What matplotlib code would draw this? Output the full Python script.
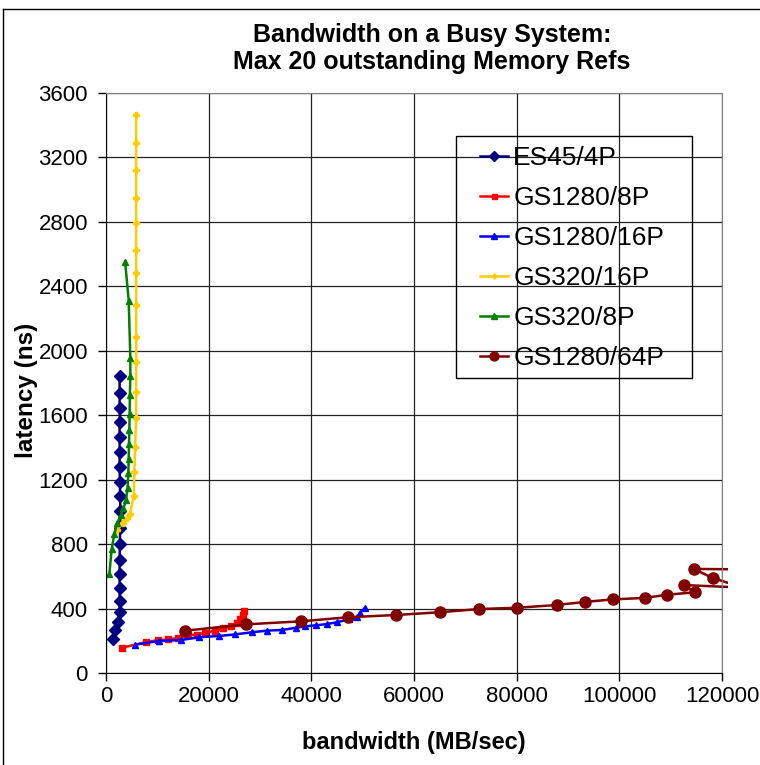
import numpy as np
import matplotlib
matplotlib.use("Agg")
import matplotlib.pyplot as plt
from matplotlib.lines import Line2D
from matplotlib.patches import Rectangle
from matplotlib.transforms import Bbox, TransformedBbox

plt.rcParams['font.family'] = ['Liberation Sans', 'DejaVu Sans']

# data (bandwidth MB/sec, latency ns)
es45_4p_bw = [1310, 1830, 2280, 2650, 2650, 2650, 2650, 2650, 2700, 2750,
              2800, 2750, 2700, 2650, 2650, 2650, 2650, 2650, 2650, 2650]
es45_4p_lat = [209, 267, 318, 377, 449, 526, 615, 701, 799, 898,
               1006, 1100, 1187, 1281, 1374, 1467, 1560, 1643, 1740, 1843]

gs1280_8p_bw = [3140, 7820, 10080, 12160, 13970, 15920, 17680, 19370, 21260,
                22880, 24380, 25470, 26200, 26640, 26840]
gs1280_8p_lat = [157, 192, 203, 209, 217, 234, 238, 250, 263,
                 277, 292, 312, 337, 360, 385]

gs1280_16p_bw = [5730, 10270, 14640, 18200, 22100, 25220, 28480, 31400, 34240,
                 37050, 38860, 40950, 43090, 44960, 47300, 48940, 49390, 50360]
gs1280_16p_lat = [176, 199, 205, 222, 230, 240, 253, 263, 267,
                  281, 290, 296, 304, 315, 333, 346, 371, 402]

gs320_16p_bw = [2160, 3390, 4170, 4700, 5400, 5540, 5670, 5870, 5870, 5870,
                5870, 5870, 5870, 5870, 5870, 5870, 5870, 5870, 5870]
gs320_16p_lat = [888, 933, 960, 985, 1100, 1249, 1405, 1581, 1746, 1932,
                 2084, 2284, 2485, 2626, 2795, 2946, 3122, 3288, 3463]

gs320_8p_bw = [660, 1110, 1640, 2160, 2900, 3390, 3920, 4200, 4350, 4420,
               4480, 4550, 4600, 4650, 4740, 4740, 4420, 3720]
gs320_8p_lat = [615, 770, 863, 929, 980, 1022, 1074, 1150, 1240, 1330,
                1420, 1510, 1610, 1724, 1845, 1953, 2312, 2554]

gs1280_64p_bw = [15480, 27310, 38080, 47110, 56540, 64980, 72640, 80120, 87780,
                 93240, 98760, 104930, 109360, 114680, 112540, 135000, 135000,
                 114480, 118190, 125000]
gs1280_64p_lat = [263, 302, 321, 346, 360, 377, 397, 405, 422,
                  441, 457, 466, 486, 501, 546, 515, 640,
                  646, 590, 520]

W, H = 760, 765
fig = plt.figure(figsize=(W / 100, H / 100), dpi=100)
ax = fig.add_axes([106 / W, 1 - 673 / H, 616 / W, 580 / H])

series = [
    ("ES45/4P", es45_4p_bw, es45_4p_lat, "#000080", "D", 6.5),
    ("GS1280/8P", gs1280_8p_bw, gs1280_8p_lat, "#FF0000", "s", 4.5),
    ("GS1280/16P", gs1280_16p_bw, gs1280_16p_lat, "#0000FF", "^", 5),
    ("GS320/16P", gs320_16p_bw, gs320_16p_lat, "#FFCC00", "P", 4),
    ("GS320/8P", gs320_8p_bw, gs320_8p_lat, "#008000", "^", 5),
    ("GS1280/64P", gs1280_64p_bw, gs1280_64p_lat, "#800000", "o", 8),
]

# lines may run a few pixels past the right edge of the plot area
clip = TransformedBbox(Bbox([[0, 0], [1.01, 1]]), ax.transAxes)
for name, bw, lat, col, mk, ms in series:
    ln, = ax.plot(bw, lat, color=col, marker=mk, markersize=ms, lw=1.8,
                  markeredgecolor=col, label=name)
    ln.set_clip_box(clip)

ax.set_xlim(0, 120000)
ax.set_ylim(0, 3600)
ax.set_xticks(np.arange(0, 120001, 20000))
ax.set_yticks(np.arange(0, 3601, 400))
ax.grid(True, color="#222222", lw=0.9)
ax.set_axisbelow(True)
for side in ["top", "right"]:
    ax.spines[side].set_color("#808080")
for side in ["left", "bottom"]:
    ax.spines[side].set_color("black")
ax.tick_params(direction="out", length=6, width=1, labelsize=16)
ax.tick_params(axis="x", pad=3)
ax.tick_params(axis="y", pad=7)

fig.text(414 / W, 1 - 742 / H, "bandwidth (MB/sec)", ha="center", va="center",
         fontsize=17, fontweight="bold")
fig.text(27 / W, 1 - 390 / H, "latency (ns)", ha="center", va="center",
         rotation=90, fontsize=17.5, fontweight="bold")

fig.text(432 / W, 1 - 35 / H, "Bandwidth on a Busy System:", ha="center",
         va="center", fontsize=18, fontweight="bold")
fig.text(432 / W, 1 - 62 / H, "Max 20 outstanding Memory Refs", ha="center",
         va="center", fontsize=18, fontweight="bold")

leg = ax.legend(loc="upper left", bbox_to_anchor=((480 - 106) / 616, (673 - 146) / 580),
                fontsize=19, frameon=False, handlelength=1.06, labelspacing=0.61,
                borderpad=0, borderaxespad=0, handletextpad=0.2)
for h in leg.legend_handles:
    h.set_markersize(h.get_markersize() * 0.8)
ax.add_patch(Rectangle(((456 - 106) / 616, (673 - 378) / 580), 236 / 616, 242 / 580,
                       transform=ax.transAxes, facecolor="none", edgecolor="black",
                       lw=1, zorder=4))

# chart area border
fig.add_artist(Line2D([3.5 / W, 3.5 / W], [0, 1 - 8.5 / H],
                      transform=fig.transFigure, color="black", lw=1))
fig.add_artist(Line2D([3.5 / W, 1], [1 - 8.5 / H, 1 - 8.5 / H],
                      transform=fig.transFigure, color="black", lw=1))

fig.savefig("out.png", dpi=100)
